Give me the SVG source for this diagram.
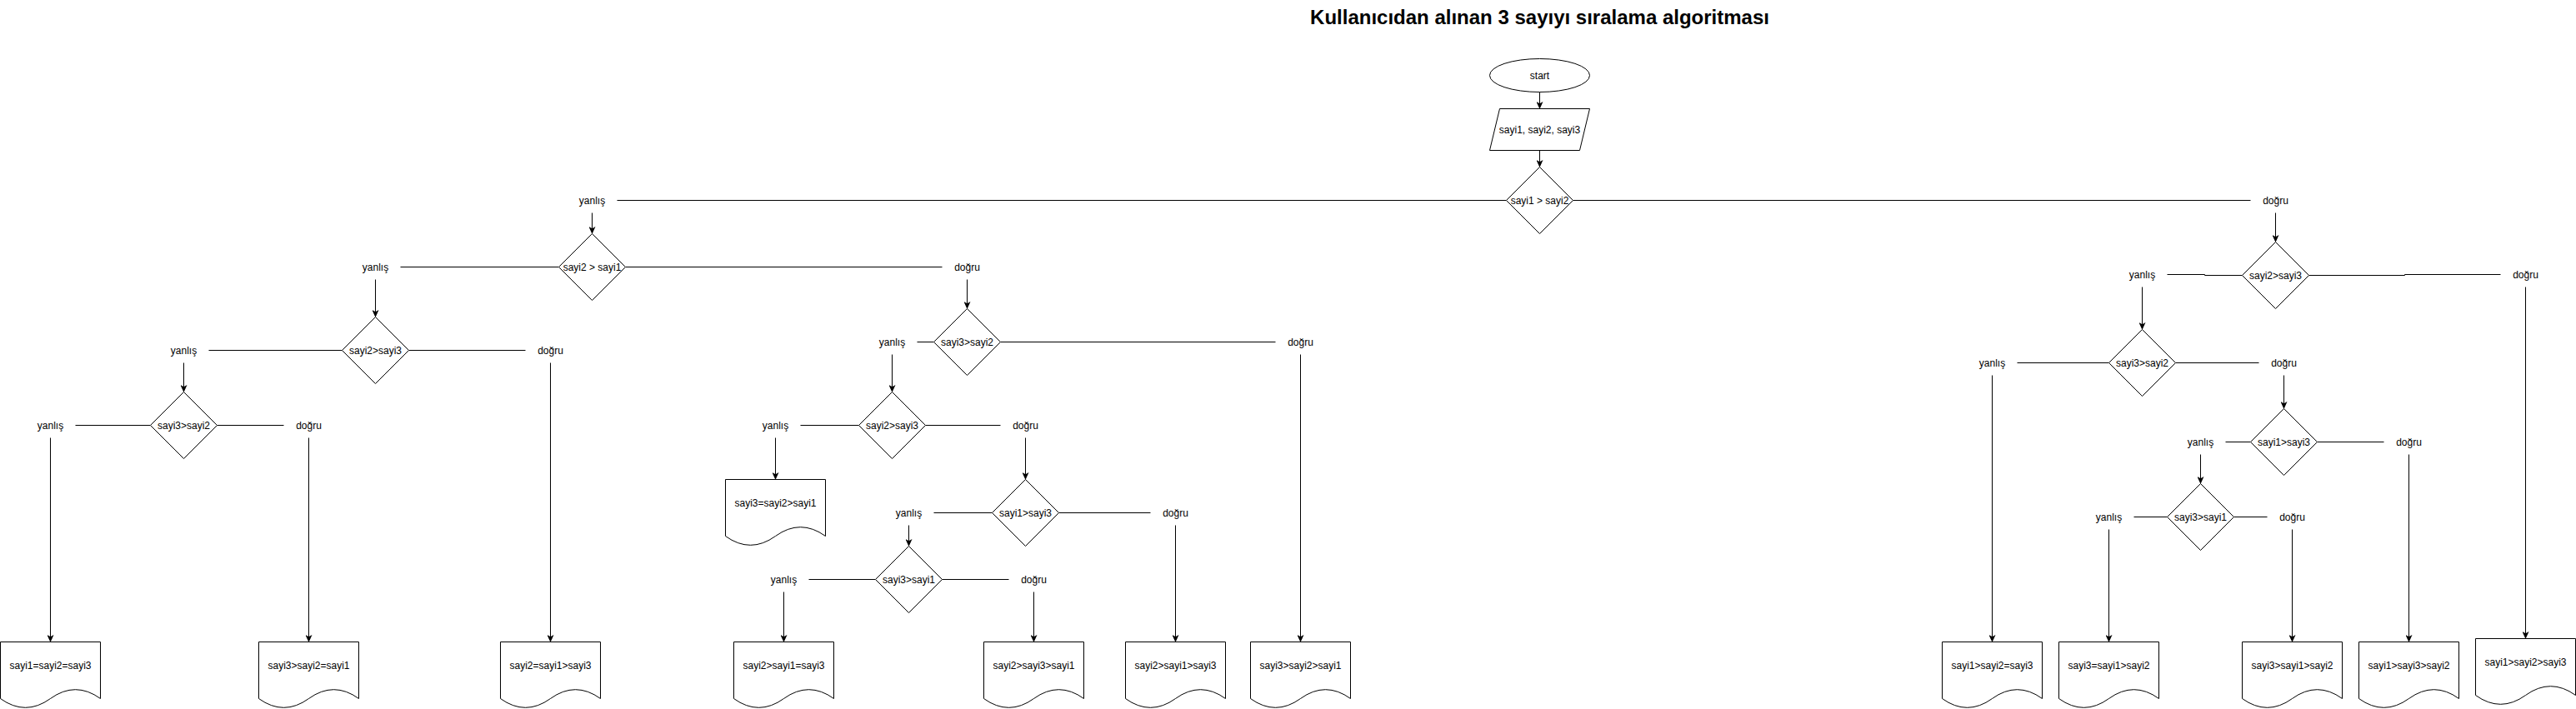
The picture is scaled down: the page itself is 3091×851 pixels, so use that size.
<svg xmlns="http://www.w3.org/2000/svg" xmlns:xlink="http://www.w3.org/1999/xlink" width="3091" height="851" viewBox="0 0 3091 851">
<style>
.n{fill:#fff;stroke:#000;stroke-width:1}
.t{font-family:"Liberation Sans",Arial,Helvetica,sans-serif;font-size:12px;text-anchor:middle;fill:#000}
.h{font-family:"Liberation Sans",Arial,Helvetica,sans-serif;font-size:24px;font-weight:bold;text-anchor:middle;fill:#000}
.c{fill:none;stroke:#000;stroke-width:1}
.a{marker-end:url(#arr)}
</style>
<defs>
<marker id="arr" markerUnits="userSpaceOnUse" markerWidth="9" markerHeight="8" viewBox="0 0 9 8" refX="8.5" refY="4" orient="auto">
<path d="M0,0 L9,4 L0,8 L2.2,4 Z" fill="#000"/>
</marker>
<path id="dia" d="M0,-40 L40,0 L0,40 L-40,0 Z"/>
<path id="doc" d="M0,0 H120 V68 Q90,46.4 60,68 Q30,89.6 0,68 Z"/>
</defs>
<rect width="3091" height="851" fill="#fff"/>
<g transform="translate(0.5,0.5)">
<text class="h" x="1847" y="28">Kullanıcıdan alınan 3 sayıyı sıralama algoritması</text>

<g id="connectors">
<path class="c a" d="M1847,110 V130"/>
<path class="c a" d="M1847,180 V200"/>
<path class="c" d="M1807,240 H740"/>
<path class="c" d="M1887,240 H2700"/>
<path class="c a" d="M710,255 V280"/>
<path class="c" d="M670,320 H480"/>
<path class="c" d="M750,320 H1130"/>
<path class="c a" d="M450,335 V380"/>
<path class="c" d="M410,420 H250"/>
<path class="c" d="M490,420 H630"/>
<path class="c a" d="M220,435 V470"/>
<path class="c" d="M180,510 H90"/>
<path class="c" d="M260,510 H340"/>
<path class="c a" d="M60,525 V770"/>
<path class="c a" d="M370,525 V770"/>
<path class="c a" d="M660,435 V770"/>
<path class="c a" d="M1160,335 V370"/>
<path class="c" d="M1120,410 H1100"/>
<path class="c" d="M1200,410 H1530"/>
<path class="c a" d="M1070,425 V470"/>
<path class="c" d="M1030,510 H960"/>
<path class="c" d="M1110,510 H1200"/>
<path class="c a" d="M930,525 V575"/>
<path class="c a" d="M1230,525 V575"/>
<path class="c" d="M1190,615 H1120"/>
<path class="c" d="M1270,615 H1380"/>
<path class="c a" d="M1090,630 V655"/>
<path class="c" d="M1050,695 H970"/>
<path class="c" d="M1130,695 H1210"/>
<path class="c a" d="M940,710 V770"/>
<path class="c a" d="M1240,710 V770"/>
<path class="c a" d="M1410,630 V770"/>
<path class="c a" d="M1560,425 V770"/>
<path class="c a" d="M2730,255 V290"/>
<path class="c" d="M2690,330 H2645 V329 H2600"/>
<path class="c" d="M2770,330 H2885 V329 H3000"/>
<path class="c a" d="M2570,344 V395"/>
<path class="c" d="M2530,435 H2420"/>
<path class="c" d="M2610,435 H2710"/>
<path class="c a" d="M2740,450 V490"/>
<path class="c" d="M2700,530 H2670"/>
<path class="c" d="M2780,530 H2860"/>
<path class="c a" d="M2640,545 V580"/>
<path class="c" d="M2600,620 H2560"/>
<path class="c" d="M2680,620 H2720"/>
<path class="c a" d="M2390,450 V770"/>
<path class="c a" d="M2530,635 V770"/>
<path class="c a" d="M2750,635 V770"/>
<path class="c a" d="M2890,545 V770"/>
<path class="c a" d="M3030,344 V766"/>
</g>

<g id="start"><ellipse class="n" cx="1847" cy="90" rx="60" ry="20"/><text class="t" x="1847" y="94">start</text></g>
<g id="input"><path class="n" d="M1799,130 H1907 L1895,180 H1787 Z"/><text class="t" x="1847" y="159">sayi1, sayi2, sayi3</text></g>

<g id="d1"><use href="#dia" class="n" x="1847" y="240"/><text class="t" x="1847" y="244">sayi1 &gt; sayi2</text></g>
<g id="d2"><use href="#dia" class="n" x="710" y="320"/><text class="t" x="710" y="324">sayi2 &gt; sayi1</text></g>
<g id="d3"><use href="#dia" class="n" x="450" y="420"/><text class="t" x="450" y="424">sayi2&gt;sayi3</text></g>
<g id="d4"><use href="#dia" class="n" x="220" y="510"/><text class="t" x="220" y="514">sayi3&gt;sayi2</text></g>
<g id="d5"><use href="#dia" class="n" x="1160" y="410"/><text class="t" x="1160" y="414">sayi3&gt;sayi2</text></g>
<g id="d6"><use href="#dia" class="n" x="1070" y="510"/><text class="t" x="1070" y="514">sayi2&gt;sayi3</text></g>
<g id="d7"><use href="#dia" class="n" x="1230" y="615"/><text class="t" x="1230" y="619">sayi1&gt;sayi3</text></g>
<g id="d8"><use href="#dia" class="n" x="1090" y="695"/><text class="t" x="1090" y="699">sayi3&gt;sayi1</text></g>
<g id="d9"><use href="#dia" class="n" x="2730" y="330"/><text class="t" x="2730" y="334">sayi2&gt;sayi3</text></g>
<g id="d10"><use href="#dia" class="n" x="2570" y="435"/><text class="t" x="2570" y="439">sayi3&gt;sayi2</text></g>
<g id="d11"><use href="#dia" class="n" x="2740" y="530"/><text class="t" x="2740" y="534">sayi1&gt;sayi3</text></g>
<g id="d12"><use href="#dia" class="n" x="2640" y="620"/><text class="t" x="2640" y="624">sayi3&gt;sayi1</text></g>

<g id="l1"><text class="t" x="710" y="244">yanlış</text></g>
<g id="l2"><text class="t" x="2730" y="244">doğru</text></g>
<g id="l3"><text class="t" x="450" y="324">yanlış</text></g>
<g id="l4"><text class="t" x="1160" y="324">doğru</text></g>
<g id="l5"><text class="t" x="220" y="424">yanlış</text></g>
<g id="l6"><text class="t" x="660" y="424">doğru</text></g>
<g id="l7"><text class="t" x="60" y="514">yanlış</text></g>
<g id="l8"><text class="t" x="370" y="514">doğru</text></g>
<g id="l9"><text class="t" x="1070" y="414">yanlış</text></g>
<g id="l10"><text class="t" x="1560" y="414">doğru</text></g>
<g id="l11"><text class="t" x="930" y="514">yanlış</text></g>
<g id="l12"><text class="t" x="1230" y="514">doğru</text></g>
<g id="l13"><text class="t" x="1090" y="619">yanlış</text></g>
<g id="l14"><text class="t" x="1410" y="619">doğru</text></g>
<g id="l15"><text class="t" x="940" y="699">yanlış</text></g>
<g id="l16"><text class="t" x="1240" y="699">doğru</text></g>
<g id="l17"><text class="t" x="2570" y="333">yanlış</text></g>
<g id="l18"><text class="t" x="3030" y="333">doğru</text></g>
<g id="l19"><text class="t" x="2390" y="439">yanlış</text></g>
<g id="l20"><text class="t" x="2740" y="439">doğru</text></g>
<g id="l21"><text class="t" x="2640" y="534">yanlış</text></g>
<g id="l22"><text class="t" x="2890" y="534">doğru</text></g>
<g id="l23"><text class="t" x="2530" y="624">yanlış</text></g>
<g id="l24"><text class="t" x="2750" y="624">doğru</text></g>

<g id="o1"><use href="#doc" class="n" x="0" y="770"/><text class="t" x="60" y="802">sayi1=sayi2=sayi3</text></g>
<g id="o2"><use href="#doc" class="n" x="310" y="770"/><text class="t" x="370" y="802">sayi3&gt;sayi2=sayi1</text></g>
<g id="o3"><use href="#doc" class="n" x="600" y="770"/><text class="t" x="660" y="802">sayi2=sayi1&gt;sayi3</text></g>
<g id="o4"><use href="#doc" class="n" x="870" y="575"/><text class="t" x="930" y="607">sayi3=sayi2&gt;sayi1</text></g>
<g id="o5"><use href="#doc" class="n" x="880" y="770"/><text class="t" x="940" y="802">sayi2&gt;sayi1=sayi3</text></g>
<g id="o6"><use href="#doc" class="n" x="1180" y="770"/><text class="t" x="1240" y="802">sayi2&gt;sayi3&gt;sayi1</text></g>
<g id="o7"><use href="#doc" class="n" x="1350" y="770"/><text class="t" x="1410" y="802">sayi2&gt;sayi1&gt;sayi3</text></g>
<g id="o8"><use href="#doc" class="n" x="1500" y="770"/><text class="t" x="1560" y="802">sayi3&gt;sayi2&gt;sayi1</text></g>
<g id="o9"><use href="#doc" class="n" x="2330" y="770"/><text class="t" x="2390" y="802">sayi1&gt;sayi2=sayi3</text></g>
<g id="o10"><use href="#doc" class="n" x="2470" y="770"/><text class="t" x="2530" y="802">sayi3=sayi1&gt;sayi2</text></g>
<g id="o11"><use href="#doc" class="n" x="2690" y="770"/><text class="t" x="2750" y="802">sayi3&gt;sayi1&gt;sayi2</text></g>
<g id="o12"><use href="#doc" class="n" x="2830" y="770"/><text class="t" x="2890" y="802">sayi1&gt;sayi3&gt;sayi2</text></g>
<g id="o13"><use href="#doc" class="n" x="2970" y="766"/><text class="t" x="3030" y="798">sayi1&gt;sayi2&gt;sayi3</text></g>
</g>
</svg>
